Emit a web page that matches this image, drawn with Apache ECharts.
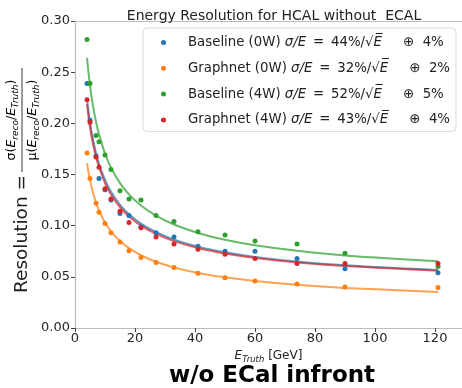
<!DOCTYPE html>
<html>
<head>
<meta charset="utf-8">
<script src="https://cdn.jsdelivr.net/npm/echarts@6/dist/echarts.min.js"></script>
<style>
html,body{margin:0;padding:0;background:#fff;}
#c{width:462px;height:388px;}
</style>
</head>
<body>
<div id="c"></div>
<script>
// ---- data ----
const energies = [4, 5, 7, 8, 10, 12, 15, 18, 22, 27, 33, 41, 50, 60, 74, 90, 121];
const baseline0W = [0.239, 0.203, 0.168, 0.146, 0.135, 0.125, 0.112, 0.110, 0.099, 0.093, 0.089, 0.080, 0.075, 0.075, 0.068, 0.058, 0.054];
const graphnet0W = [0.171, 0.146, 0.122, 0.113, 0.102, 0.093, 0.084, 0.0755, 0.069, 0.064, 0.059, 0.0536, 0.049, 0.046, 0.043, 0.040, 0.0395];
const baseline4W = [0.282, 0.239, 0.188, 0.182, 0.169, 0.155, 0.134, 0.126, 0.125, 0.110, 0.104, 0.094, 0.091, 0.085, 0.082, 0.073, 0.060];
const graphnet4W = [0.223, 0.201, 0.167, 0.157, 0.136, 0.126, 0.114, 0.103, 0.098, 0.089, 0.082, 0.077, 0.072, 0.068, 0.063, 0.063, 0.063];

// fitted curves, values
const fitEnergies = [4, 5, 6, 7, 8, 10, 12, 15, 18, 22, 27, 33, 41, 50, 60, 74, 90, 121];
const fitBaseline0W = [0.2236, 0.2008, 0.1840, 0.1711, 0.1606, 0.1448, 0.1332, 0.1204, 0.1112, 0.1020, 0.0936, 0.0864, 0.0795, 0.0740, 0.0695, 0.0649, 0.0612, 0.0566];
const fitGraphnet0W = [0.1612, 0.1445, 0.1322, 0.1226, 0.1149, 0.1031, 0.0945, 0.0850, 0.0780, 0.0711, 0.0647, 0.0592, 0.0538, 0.0495, 0.0459, 0.0422, 0.0392, 0.0353];
const fitBaseline4W = [0.2639, 0.2369, 0.2170, 0.2016, 0.1893, 0.1705, 0.1567, 0.1416, 0.1306, 0.1197, 0.1097, 0.1011, 0.0929, 0.0862, 0.0808, 0.0754, 0.0709, 0.0653];
const fitGraphnet4W = [0.2187, 0.1964, 0.1800, 0.1674, 0.1572, 0.1417, 0.1304, 0.1180, 0.1090, 0.1000, 0.0919, 0.0849, 0.0782, 0.0728, 0.0684, 0.0640, 0.0605, 0.0559];

const seriesNames = ['Baseline (0W)', 'Graphnet (0W)', 'Baseline (4W)', 'Graphnet (4W)'];
const stochasticTerms = ['44%', '32%', '52%', '43%'];
const constantTerms = ['4%', '2%', '5%', '4%'];
const termGaps = ['     ', '     ', '     ', '     '];
const yTicks = [0, 0.05, 0.10, 0.15, 0.20, 0.25, 0.30];
const xTicks = [0, 20, 40, 60, 80, 100, 120];
const titleText = 'Energy Resolution for HCAL without  ECAL';
const footerText = 'w/o ECal infront';

// ---- chart ----
const colors = ['#1f77b4', '#ff7f0e', '#2ca02c', '#d62728'];
const pointSets = [baseline0W, graphnet0W, baseline4W, graphnet4W];
const fitSets = [fitBaseline0W, fitGraphnet0W, fitBaseline4W, fitGraphnet4W];
const FONT = 'DejaVu Sans';
const GRID_W = 387;

const chart = echarts.init(document.getElementById('c'), null, {renderer: 'canvas'});

const series = [];
fitSets.forEach((vals, i) => {
  series.push({
    name: 'fit' + i,
    type: 'line',
    data: fitEnergies.map((e, j) => [e, vals[j]]),
    smooth: 0.4,
    showSymbol: false,
    symbol: 'none',
    lineStyle: {color: colors[i], width: 2, opacity: 0.72},
    z: 2,
    silent: true
  });
});
pointSets.forEach((vals, i) => {
  series.push({
    name: seriesNames[i],
    type: 'scatter',
    data: energies.map((e, j) => [e, vals[j]]),
    symbol: 'circle',
    symbolSize: 5,
    itemStyle: {color: colors[i], opacity: 1},
    z: 3
  });
});

const legendRich = {
  n: {fontFamily: FONT, fontSize: 13.3, color: '#222'},
  i: {fontFamily: FONT, fontSize: 13.3, fontStyle: 'italic', color: '#222'}
};

const subRich = (size, sub) => ({
  m: {fontFamily: FONT, fontSize: size, color: '#222', lineHeight: size + 4},
  mi: {fontFamily: FONT, fontSize: size, fontStyle: 'italic', color: '#222', lineHeight: size + 4},
  s: {fontFamily: FONT, fontSize: sub, fontStyle: 'italic', color: '#222', lineHeight: sub + 2, verticalAlign: 'bottom'}
});

const spine = {show: true, lineStyle: {color: '#bcbcbc', width: 1.2}};

const option = {
  animation: false,
  backgroundColor: '#fff',
  title: {
    text: titleText,
    left: 269, top: 4, textAlign: 'center',
    textStyle: {fontFamily: FONT, fontSize: 14, fontWeight: 'normal', color: '#222'}
  },
  grid: {
    left: 75, top: 21, width: GRID_W, height: 307, show: false
  },
  xAxis: [{
    type: 'value', min: 0, max: GRID_W / 3, interval: 20,
    axisLine: spine,
    axisTick: {show: true, length: 4, lineStyle: {color: '#444'}},
    splitLine: {show: false},
    axisLabel: {
      fontFamily: FONT, fontSize: 13, color: '#262626', margin: 4,
      showMaxLabel: false,
      formatter: v => (xTicks.indexOf(v) >= 0 ? String(v) : '')
    },
    name: '{mi|E}{s|Truth}{m| [GeV]}',
    nameLocation: 'middle', nameGap: 16,
    nameTextStyle: {rich: subRich(12, 8.5)}
  }, {
    type: 'value', position: 'top', min: 0, max: GRID_W / 3, interval: 20,
    axisLine: spine, axisTick: {show: false}, axisLabel: {show: false}, splitLine: {show: false}
  }],
  yAxis: {
    type: 'value', min: 0, max: 0.30, interval: 0.05,
    axisLine: spine,
    axisTick: {show: true, length: 4, lineStyle: {color: '#444'}},
    splitLine: {show: false},
    axisLabel: {
      fontFamily: FONT, fontSize: 13, color: '#262626', margin: 5,
      formatter: v => {
        const t = yTicks.find(y => Math.abs(y - v) < 1e-9);
        return t === undefined ? '' : t.toFixed(2);
      }
    }
  },
  legend: {
    data: seriesNames.map(n => ({name: n, icon: 'circle'})),
    orient: 'vertical',
    left: 143, top: 28,
    width: 315,
    itemWidth: 5, itemHeight: 5,
    itemGap: 12.8,
    padding: [8, 6, 5, 18],
    borderColor: '#dadada', borderWidth: 1, borderRadius: 4,
    backgroundColor: 'rgba(255,255,255,0.85)',
    selectedMode: false,
    textStyle: {padding: [0, 0, 0, 17], rich: legendRich},
    formatter: name => {
      const i = seriesNames.indexOf(name);
      return '{n|' + name + ' }{i|σ/E}{n|\u2009 = \u2009' + stochasticTerms[i] + '/√}{i|E\u0305}{n|' + termGaps[i] + '⊕  ' + constantTerms[i] + '}';
    }
  },
  graphic: [
    {
      type: 'group',
      x: 22, y: 178,
      rotation: Math.PI / 2,
      children: [
        {
          type: 'text',
          x: -56, y: 0,
          style: {text: 'Resolution =', fontFamily: FONT, fontSize: 18.5, fill: '#222', align: 'center', verticalAlign: 'middle'}
        },
        {
          type: 'line',
          shape: {x1: 6, y1: 0, x2: 110, y2: 0},
          style: {stroke: '#222', lineWidth: 0.9}
        },
        {
          type: 'text',
          x: 58, y: -10,
          style: {
            text: '{m|σ(}{mi|E}{s|reco}{m|/}{mi|E}{s|Truth}{m|)}',
            rich: subRich(12.5, 9), align: 'center', verticalAlign: 'middle'
          }
        },
        {
          type: 'text',
          x: 58, y: 11,
          style: {
            text: '{m|μ(}{mi|E}{s|reco}{m|/}{mi|E}{s|Truth}{m|)}',
            rich: subRich(12.5, 9), align: 'center', verticalAlign: 'middle'
          }
        }
      ]
    },
    {
      type: 'text',
      x: 272, y: 376,
      style: {text: footerText, fontFamily: FONT, fontSize: 23, fontWeight: 'bold', fill: '#000', align: 'center', verticalAlign: 'middle'}
    }
  ],
  series: series
};

chart.setOption(option);
</script>
</body>
</html>
